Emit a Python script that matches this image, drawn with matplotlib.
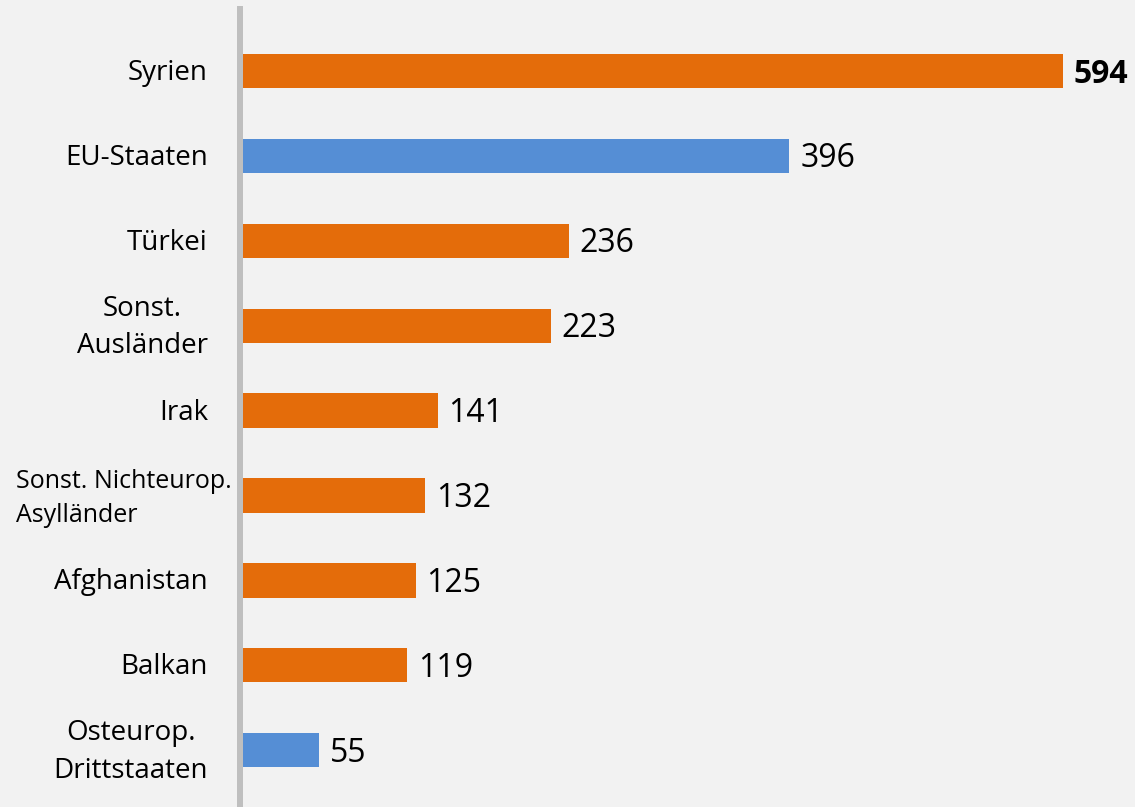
import matplotlib
matplotlib.use("Agg")
import matplotlib.pyplot as plt
from matplotlib.lines import Line2D

categories = ["Syrien", "EU-Staaten", "Türkei", "Sonst.\nAusländer", "Irak",
              "Sonst. Nichteurop.\nAsylländer", "Afghanistan", "Balkan",
              "Osteurop.\nDrittstaaten"]
values = [594, 396, 236, 223, 141, 132, 125, 119, 55]
is_eu = [False, True, False, False, False, False, False, False, True]

ORANGE = "#e46c0a"
BLUE = "#558ed5"
BG = "#f2f2f2"

plt.rcParams['font.family'] = ['Open Sans', 'DejaVu Sans']

W, H = 1135, 807
fig = plt.figure(figsize=(W / 100, H / 100), dpi=100, facecolor=BG)
ax = fig.add_axes([243 / W, 0, (W - 243) / W, 1])
ax.set_facecolor(BG)

ypos = list(range(len(categories)))
colors = [BLUE if e else ORANGE for e in is_eu]
ax.barh(ypos, values, height=0.405, color=colors, zorder=3)

scale = 1.38  # px per unit
step = 84.9
ax.set_xlim(0, (W - 243) / scale)
ax.set_ylim((H - 71) / step, (0 - 71) / step)
for s in ax.spines.values():
    s.set_visible(False)
ax.set_xticks([])
ax.set_yticks([])

# axis line
fig.add_artist(Line2D([240 / W, 240 / W], [0, 1 - 9 / H], color="#bfbfbf",
                      linewidth=4.3, transform=fig.transFigure, zorder=1))

for y, v in zip(ypos, values):
    bold = (v == max(values))
    ax.annotate(str(v), xy=(v, y), xytext=(11, -3), textcoords="offset pixels",
                ha="left", va="center", fontsize=23,
                fontweight="bold" if bold else "normal", color="black",
                annotation_clip=False)

for y, c in zip(ypos, categories):
    if c.startswith("Sonst. Nichteurop."):
        ax.annotate(c, xy=(0, y), xytext=(-11, -3), textcoords="offset pixels",
                    ha="right", va="center", fontsize=18, multialignment="left",
                    linespacing=1.45, annotation_clip=False)
    else:
        ax.annotate(c, xy=(0, y), xytext=(-35, -2), textcoords="offset pixels",
                    ha="right", va="center", fontsize=20, multialignment="center",
                    linespacing=1.45, annotation_clip=False)

fig.savefig("out.png", dpi=100, facecolor=BG)
